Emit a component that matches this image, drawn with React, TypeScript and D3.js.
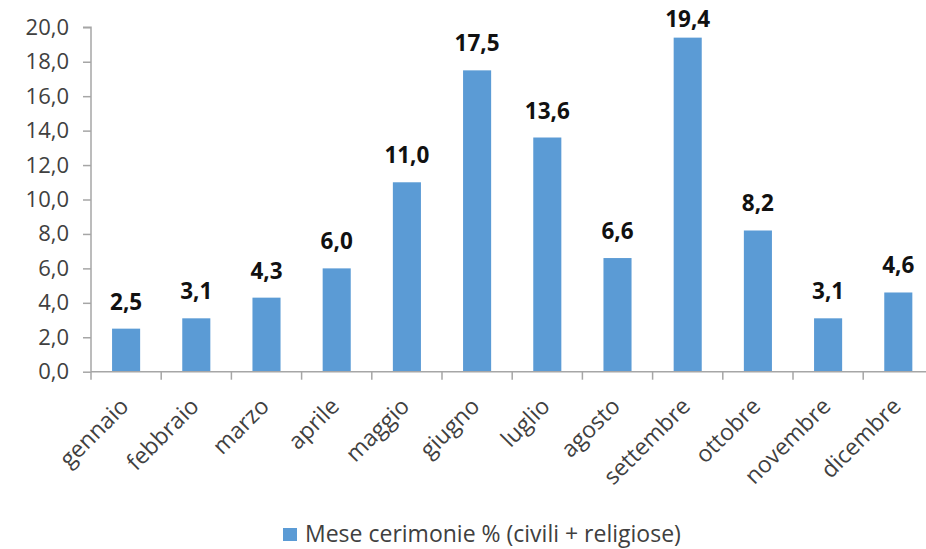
import React, { useEffect, useRef } from 'react';
import * as d3 from 'd3';

const months = ['gennaio', 'febbraio', 'marzo', 'aprile', 'maggio', 'giugno', 'luglio', 'agosto', 'settembre', 'ottobre', 'novembre', 'dicembre'];
const values = [2.5, 3.1, 4.3, 6.0, 11.0, 17.5, 13.6, 6.6, 19.4, 8.2, 3.1, 4.6];
const yTicks = [0, 2, 4, 6, 8, 10, 12, 14, 16, 18, 20];
const seriesName = 'Mese cerimonie % (civili + religiose)';

export default function App() {
  const ref = useRef<SVGSVGElement>(null);
  const width = 926;
  const height = 549;
  const margin = { left: 91, top: 27.3, bottom: 371.7 };
  const step = 70.2;

  useEffect(() => {
    document.body.style.margin = '0';
    const svg = d3.select(ref.current);
    svg.selectAll('*').remove();
    svg.attr('width', width).attr('height', height)
      .style('font-family', '"Open Sans", sans-serif')
      .style('background', '#fff');

    const fmt = (v: number) => d3.format('.1f')(v).replace('.', ',');

    const x = d3.scaleBand<string>()
      .domain(months)
      .range([margin.left, margin.left + step * months.length])
      .paddingInner(0.6)
      .paddingOuter(0.3);
    const y = d3.scaleLinear().domain([0, 20]).range([margin.bottom, margin.top]);

    // y axis
    const yAxis = d3.axisLeft(y).tickValues(yTicks).tickSize(8).tickPadding(14).tickFormat(d => fmt(+d));
    const gy = svg.append('g').attr('transform', `translate(${margin.left},0)`).call(yAxis);
    gy.select('.domain').attr('stroke', '#a6a6a6').attr('stroke-width', 1.5).attr('d', `M-8,${margin.top}H0V${margin.bottom}`);
    gy.selectAll('.tick line').attr('stroke', '#a6a6a6').attr('stroke-width', 1.5);
    gy.selectAll('.tick text').attr('fill', '#404040').style('font-size', '22px').style('font-family', '"Open Sans", sans-serif');

    // bars
    svg.append('g').selectAll('rect').data(values).join('rect')
      .attr('x', (_, i) => x(months[i])!)
      .attr('y', d => y(d))
      .attr('width', x.bandwidth())
      .attr('height', d => y(0) - y(d))
      .attr('fill', '#5b9bd5');

    // x axis line and boundary ticks
    const xEnd = margin.left + step * months.length;
    svg.append('line').attr('x1', margin.left).attr('x2', xEnd)
      .attr('y1', y(0)).attr('y2', y(0)).attr('stroke', '#a6a6a6').attr('stroke-width', 1.5);
    svg.append('g').selectAll('line').data(d3.range(months.length + 1)).join('line')
      .attr('x1', i => margin.left + i * step).attr('x2', i => margin.left + i * step)
      .attr('y1', y(0)).attr('y2', y(0) + 8)
      .attr('stroke', '#a6a6a6').attr('stroke-width', 1.5);

    // x labels
    svg.append('g').selectAll('text').data(months).join('text')
      .attr('transform', d => `translate(${x(d)! + x.bandwidth() / 2 + 4},${y(0) + 36}) rotate(-45)`)
      .attr('text-anchor', 'end')
      .attr('fill', '#404040')
      .style('font-size', '23px')
      .text(d => d);

    // value labels
    svg.append('g').selectAll('text').data(values).join('text')
      .attr('x', (_, i) => x(months[i])! + x.bandwidth() / 2)
      .attr('y', d => Math.max(y(d) - 19, 27))
      .attr('text-anchor', 'middle')
      .attr('fill', '#111')
      .style('font-size', '22.5px')
      .style('font-weight', 'bold')
      .text(d => fmt(d));

    // legend
    const lg = svg.append('g').attr('transform', 'translate(283,528)');
    lg.append('rect').attr('width', 14).attr('height', 13).attr('fill', '#5b9bd5');
    lg.append('text').attr('x', 22).attr('y', 14).attr('fill', '#404040').style('font-size', '23px').text(seriesName);
  }, []);

  return <svg ref={ref}></svg>;
}
